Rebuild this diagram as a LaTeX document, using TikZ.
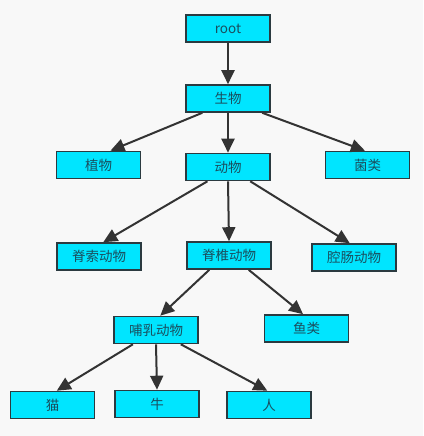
\documentclass[tikz,border=0pt]{standalone}
\usepackage{fontspec}
\setmainfont{Noto Sans CJK SC}
\usetikzlibrary{arrows.meta,calc}
\definecolor{boxfill}{HTML}{00E5FF}
\definecolor{boxline}{HTML}{2B3A40}
\definecolor{boxtext}{HTML}{1A4E5E}
\definecolor{arrowcol}{HTML}{333333}
\definecolor{bgcol}{HTML}{F8F8F8}
\tikzset{
  treebox/.style={draw=boxline, fill=boxfill, line width=1.6pt, minimum width=84pt, minimum height=27pt, inner sep=0pt, text=boxtext, font=\fontsize{13.5pt}{15pt}\selectfont},
  treearrow/.style={draw=arrowcol, line width=2pt, -{Triangle[length=14pt,width=13pt]}}
}
\newcommand\linkbox[4]{\draw[treearrow] ($(#1.south west)!#2!(#1.south east)$) -- ($(#3.north west)!#4!(#3.north east)$);}
\begin{document}
\begin{tikzpicture}[x=1pt,y=-1pt]
\fill[bgcol] (0,0) rectangle (423,436);
\useasboundingbox (0,0) rectangle (423,436);
\node[treebox] (root) at (228,28.5) {root};
\node[treebox] (sw) at (228,98.5) {生物};
\node[treebox] (zw) at (98.5,165) {植物};
\node[treebox] (dw) at (228,167) {动物};
\node[treebox] (jl) at (367.5,165) {菌类};
\node[treebox] (jsuo) at (99,256.5) {脊索动物};
\node[treebox] (jzhui) at (229,255.5) {脊椎动物};
\node[treebox] (qc) at (354,257.5) {腔肠动物};
\node[treebox] (br) at (156,330) {哺乳动物};
\node[treebox] (yl) at (306.5,328.5) {鱼类};
\node[treebox] (mao) at (52.5,405) {猫};
\node[treebox] (niu) at (157,404) {牛};
\node[treebox] (ren) at (269,405) {人};
\linkbox{root}{0.5}{sw}{0.5}
\linkbox{sw}{0.2}{zw}{0.64}
\linkbox{sw}{0.5}{dw}{0.5}
\linkbox{sw}{0.9}{jl}{0.47}
\linkbox{dw}{0.26}{jsuo}{0.55}
\linkbox{dw}{0.5}{jzhui}{0.5}
\linkbox{dw}{0.76}{qc}{0.45}
\linkbox{jzhui}{0.27}{br}{0.55}
\linkbox{jzhui}{0.73}{yl}{0.46}
\linkbox{br}{0.23}{mao}{0.55}
\linkbox{br}{0.5}{niu}{0.5}
\linkbox{br}{0.79}{ren}{0.48}
\end{tikzpicture}
\end{document}
